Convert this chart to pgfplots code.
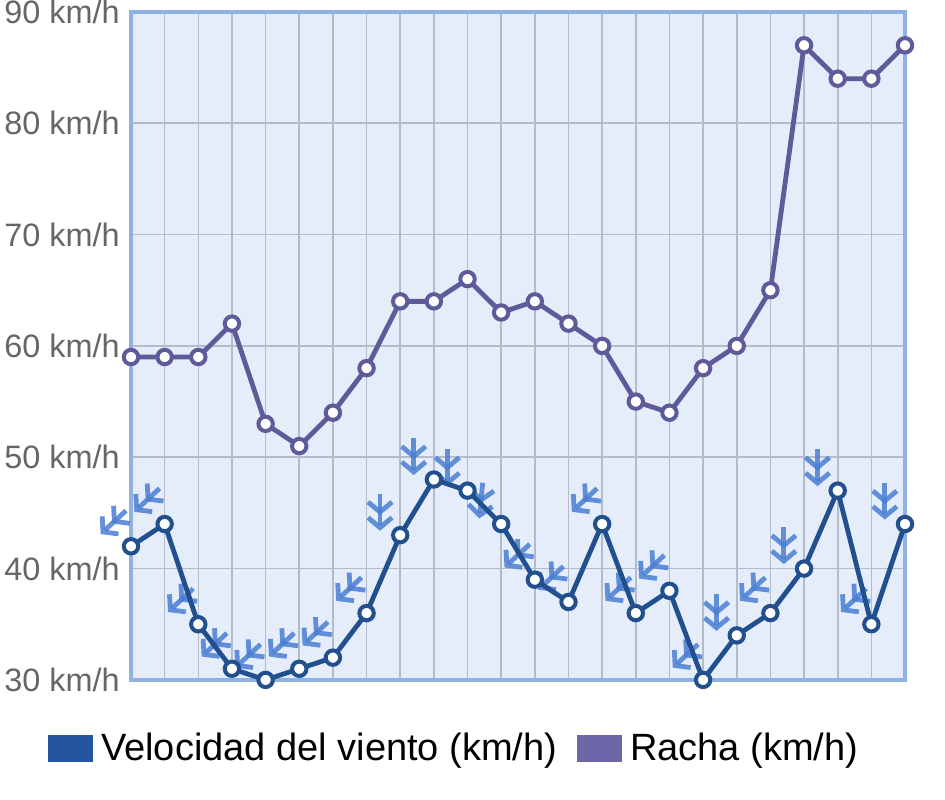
\documentclass[border=0pt]{standalone}
\usepackage{pgfplots}
\usepackage{fontspec}
\setmainfont{Liberation Sans}
\pgfplotsset{compat=1.18}
\usetikzlibrary{arrows.meta}

\definecolor{windblue}{HTML}{22508F}
\definecolor{gustpurple}{HTML}{5F5A9A}
\definecolor{arrowblue}{HTML}{4A7ED3}
\definecolor{plotbg}{HTML}{E5EDFB}
\definecolor{framecol}{HTML}{8FB2E2}
\definecolor{gridcol}{HTML}{B4BCCB}
\definecolor{ticktext}{HTML}{666666}
\definecolor{legblue}{HTML}{24559E}
\definecolor{legpurple}{HTML}{6B67A8}

% wind speed and gust, one value per hour
\pgfplotstableread{
x  wind gust
0  42 59
1  44 59
2  35 59
3  31 62
4  30 53
5  31 51
6  32 54
7  36 58
8  43 64
9  48 64
10 47 66
11 44 63
12 39 64
13 37 62
14 44 60
15 36 55
16 38 54
17 30 58
18 34 60
19 36 65
20 40 87
21 47 84
22 35 84
23 44 87
}\windtable

% direction arrows drawn next to each wind point
\pgfplotstableread{
x     y    u     v
-0.15 45.2 -0.75 -2.1
0.85  47.2 -0.75 -2.1
1.85  38.2 -0.75 -2.1
2.85  34.2 -0.75 -2.1
3.85  33.2 -0.75 -2.1
4.85  34.2 -0.75 -2.1
5.85  35.2 -0.75 -2.1
6.85  39.2 -0.75 -2.1
7.4   46.7  0    -3.3
8.4   51.7  0    -3.3
9.4   50.7  0    -3.3
10.45 47.7 -0.1  -3.2
11.85 42.2 -0.75 -2.1
12.85 40.2 -0.75 -2.1
13.85 47.2 -0.75 -2.1
14.85 39.2 -0.75 -2.1
15.85 41.2 -0.75 -2.1
16.85 33.2 -0.75 -2.1
17.4  37.7  0    -3.3
18.85 39.2 -0.75 -2.1
19.4  43.7  0    -3.3
20.4  50.7  0    -3.3
21.85 38.2 -0.75 -2.1
22.4  47.7  0    -3.3
}\arrowtable

\begin{document}
\begin{tikzpicture}
\begin{axis}[
    scale only axis,
    width=387pt,
    height=334pt,
    xmin=0, xmax=23,
    ymin=30, ymax=90,
    clip=false,
    axis background/.style={fill=plotbg},
    axis line style={framecol, line width=2pt},
    xtick={0,...,23},
    xticklabels={},
    ytick={30,40,...,90},
    yticklabels={30 km/h,40 km/h,50 km/h,60 km/h,70 km/h,80 km/h,90 km/h},
    major tick length=0pt,
    tick label style={font=\fontsize{16.2}{19}\selectfont, text=ticktext},
    yticklabel style={inner sep=0pt, xshift=-5.5pt},
    grid=major,
    major grid style={gridcol, line width=0.8pt},
    legend columns=2,
    legend style={
        at={(0.419,-0.103)}, anchor=center,
        draw=none, fill=none,
        font=\fontsize{19}{22}\selectfont,
        /tikz/every odd column/.append style={column sep=2pt},
        /tikz/every even column/.append style={column sep=8pt}
    },
]
\addplot[forget plot, draw=arrowblue, opacity=0.85, line width=2.4pt,
    -{Straight Barb[length=5pt,width=12pt]Straight Barb[length=5pt,width=12pt]},
    quiver={u=\thisrow{u}, v=\thisrow{v}}]
    table[x=x, y=y] {\arrowtable};

\addplot[windblue, line width=2.4pt, mark=*, mark size=3.6pt,
    mark options={fill=white, draw=windblue, line width=2pt},
    legend image code/.code={\fill[legblue] (0pt,-5.5pt) rectangle (20pt,5.5pt);}]
    table[x=x, y=wind] {\windtable};
\addlegendentry{Velocidad del viento (km/h)}

\addplot[gustpurple, line width=2.4pt, mark=*, mark size=3.6pt,
    mark options={fill=white, draw=gustpurple, line width=2pt},
    legend image code/.code={\fill[legpurple] (0pt,-5.5pt) rectangle (20pt,5.5pt);}]
    table[x=x, y=gust] {\windtable};
\addlegendentry{Racha (km/h)}
\end{axis}
\path (current axis.south east) ++(20pt,-60pt);
\path (current axis.south west) ++(-65.5pt,0pt);
\end{tikzpicture}
\end{document}
